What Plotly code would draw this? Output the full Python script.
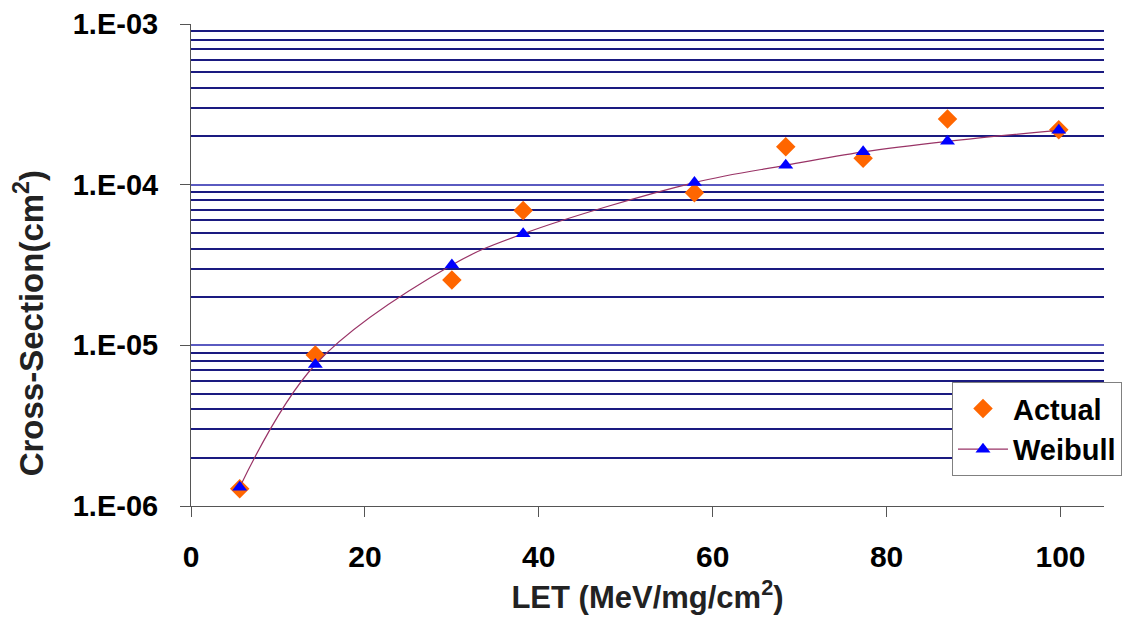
import plotly.graph_objects as go

# LET values (MeV/mg/cm^2)
let_values = [5.6, 14.3, 30.0, 38.2, 57.9, 68.4, 77.3, 87.0, 99.8]
# Measured cross-section (cm^2)
actual_xs = [1.28e-6, 8.7e-6, 2.55e-5, 6.9e-5, 8.9e-5, 1.72e-4, 1.46e-4, 2.56e-4, 2.2e-4]
# Weibull fit cross-section (cm^2)
weibull_xs = [1.31e-6, 7.6e-6, 3.16e-5, 4.95e-5, 1.03e-4, 1.32e-4, 1.6e-4, 1.86e-4, 2.18e-4]

y_tickvals = [1e-6, 1e-5, 1e-4, 1e-3]
y_ticktext = ["1.E-06", "1.E-05", "1.E-04", "1.E-03"]
x_tickvals = [0, 20, 40, 60, 80, 100]

FONT = "Liberation Sans, Arial, sans-serif"

fig = go.Figure()
fig.add_trace(go.Scatter(
    x=let_values, y=actual_xs, name="Actual", mode="markers",
    marker=dict(symbol="diamond", size=15, color="#FF6600", line=dict(width=0)),
))
fig.add_trace(go.Scatter(
    x=let_values, y=weibull_xs, name="Weibull", mode="lines+markers",
    line=dict(color="#993366", width=1.2, shape="spline", smoothing=1.0),
    marker=dict(symbol="triangle-up", size=13, color="#0000FF", line=dict(width=0)),
))

fig.update_xaxes(
    range=[0, 105], tickvals=x_tickvals, showgrid=False, zeroline=False,
    showline=True, linecolor="#555555", linewidth=1, automargin=False,
    ticks="outside", ticklen=10, tickcolor="#555555", tickwidth=1,
    tickfont=dict(family=FONT, size=30, color="black", weight="bold"),
    ticklabelstandoff=14,
    title=dict(text="LET (MeV/mg/cm<sup>2</sup>)", standoff=14,
               font=dict(family=FONT, size=31, color="#222222", weight="bold")),
)
fig.update_yaxes(
    type="log", range=[-6, -3], tickvals=y_tickvals, ticktext=y_ticktext,
    showgrid=True, gridcolor="#5a5ac0", gridwidth=1.5, zeroline=False,
    showline=True, linecolor="#555555", linewidth=1, automargin=False,
    ticks="outside", ticklen=10, tickcolor="#555555", tickwidth=1,
    tickfont=dict(family=FONT, size=29, color="black", weight="bold"),
    ticklabelstandoff=16,
    minor=dict(dtick="D1", showgrid=True, gridcolor="#1a1a80", gridwidth=2, ticks=""),
)

fig.add_annotation(
    text="Cross-Section(cm<sup>2</sup>)", xref="paper", yref="paper",
    x=-0.178, y=0.38, textangle=-90, showarrow=False,
    font=dict(family=FONT, size=33, color="#222222", weight="bold"),
    xanchor="center", yanchor="middle",
)

fig.update_layout(
    width=1133, height=624,
    margin=dict(l=191, r=29, t=24, b=118, autoexpand=False),
    paper_bgcolor="white", plot_bgcolor="white",
    showlegend=True,
    legend=dict(
        x=0.8335, y=0.257, xanchor="left", yanchor="top",
        bgcolor="white", bordercolor="#808080", borderwidth=1,
        font=dict(family=FONT, size=29, color="black", weight="bold"),
        itemwidth=50, tracegroupgap=0,
    ),
)

fig.write_html("out.html")
